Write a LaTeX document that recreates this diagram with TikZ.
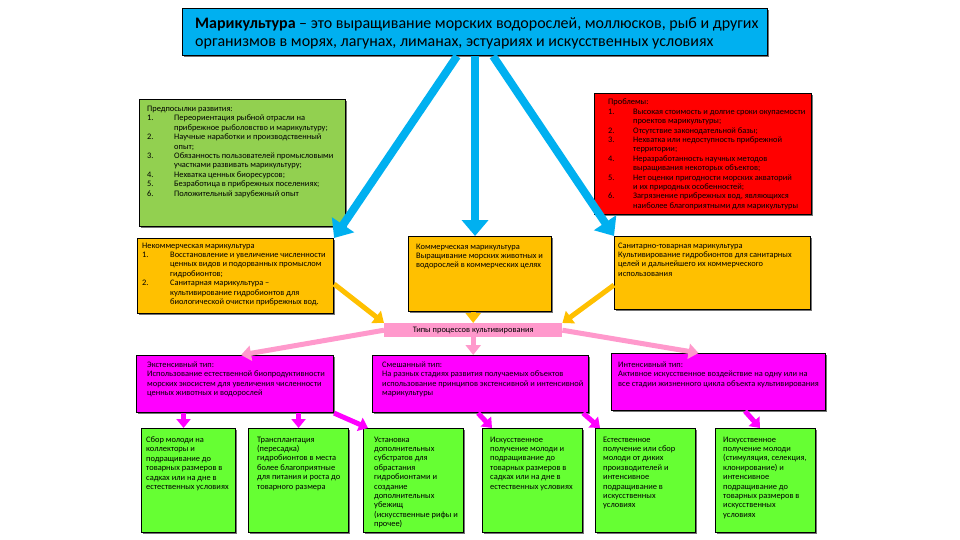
\documentclass[tikz,border=0pt]{standalone}
\usepackage{fontspec}
\setmainfont{Carlito}
\usetikzlibrary{arrows.meta,calc,shadows}
\definecolor{cblue}{HTML}{00B0F0}
\definecolor{cgreen}{HTML}{92D050}
\definecolor{cred}{HTML}{FF0000}
\definecolor{corange}{HTML}{FFC000}
\definecolor{cpink}{HTML}{FF99CC}
\definecolor{cmag}{HTML}{FF00FF}
\definecolor{clime}{HTML}{66FF33}
\newcommand{\NI}[2]{\makebox[#1][l]{#2}}
\begin{document}
\begin{tikzpicture}[x=1pt,y=-1pt,
  box/.style={draw=black, line width=1.1pt, inner sep=0pt, anchor=north west,
    drop shadow={shadow xshift=1.2pt,shadow yshift=-1.2pt,fill=black,opacity=.55}},
  txt/.style={inner sep=0pt, anchor=north west, align=left, text=black,
    font=\fontsize{8.4}{9.4}\selectfont},
  barrow/.style={draw=cblue, line width=8pt, -{Triangle[width=26pt,length=16pt]}},
  oarrow/.style={draw=corange, line width=5pt, -{Triangle[width=15pt,length=10pt]}},
  parrow/.style={draw=cpink, line width=5pt, -{Triangle[width=15pt,length=10pt]}},
  marrow/.style={draw=cmag, line width=5pt, -{Triangle[width=14pt,length=9pt]}}]
\useasboundingbox (0,0) rectangle (960,540);
\fill[white] (0,0) rectangle (960,540);

% boxes
\node[box, fill=cblue, minimum width=585pt, minimum height=47pt] (title) at (182,8) {};
\node[box, fill=cgreen, minimum width=206pt, minimum height=127pt] (pre) at (139,99) {};
\node[box, fill=cred, minimum width=217pt, minimum height=121pt] (prob) at (594,93) {};
\node[box, fill=corange, minimum width=196pt, minimum height=75pt] (ol) at (137,238) {};
\node[box, fill=corange, minimum width=143pt, minimum height=75pt] (om) at (408,236) {};
\node[box, fill=corange, minimum width=196pt, minimum height=73pt] (or) at (614,236) {};
\node[fill=cpink, inner sep=0pt, anchor=north west, minimum width=178pt, minimum height=14pt] (pink) at (384,323) {};
\node[box, fill=cmag, minimum width=197pt, minimum height=57pt] (ml) at (136,355) {};
\node[box, fill=cmag, minimum width=216pt, minimum height=57pt] (mm) at (372,355) {};
\node[box, fill=cmag, minimum width=214pt, minimum height=57pt] (mr) at (611,353) {};
\node[box, fill=clime, minimum width=94pt, minimum height=104pt] (g1) at (141,428) {};
\node[box, fill=clime, minimum width=100pt, minimum height=104pt] (g2) at (248,428) {};
\node[box, fill=clime, minimum width=100pt, minimum height=104pt] (g3) at (363,428) {};
\node[box, fill=clime, minimum width=100pt, minimum height=104pt] (g4) at (482,428) {};
\node[box, fill=clime, minimum width=100pt, minimum height=104pt] (g5) at (595,428) {};
\node[box, fill=clime, minimum width=100pt, minimum height=104pt] (g6) at (715,428) {};

% arrows
\draw[barrow] ([xshift=-18pt]title.south) -- (ol.north east);
\draw[barrow] (title.south) -- (title.south |- om.north);
\draw[barrow] ([xshift=18pt]title.south) -- (or.north west);
\draw[oarrow] ([yshift=-8pt]ol.east) -- (pink.north west);
\draw[oarrow] (om.south -| pink.north) -- (pink.north);
\draw[oarrow] ([yshift=-12pt]or.west) -- (pink.north east);
\draw[parrow] (pink.west) -- ([xshift=6pt]ml.north);
\draw[parrow] (pink.south) -- (pink.south |- mm.north);
\draw[parrow] (pink.east) -- ([xshift=-20pt]mr.north);
\draw[marrow] ([xshift=-5pt]g1.north |- ml.south) -- ([xshift=-5pt]g1.north);
\draw[marrow] (g2.north |- ml.south) -- (g2.north);
\draw[marrow] (ml.south east) -- ([xshift=5pt]g3.north west);
\draw[marrow] ([xshift=106pt]mm.south west) -- ([xshift=10pt]g4.north west);
\draw[marrow] ([xshift=-6pt]mm.south east) -- ([xshift=5pt]g5.north west);
\draw[marrow] ([xshift=134pt]mr.south west) -- ([xshift=45pt]g6.north west);

% texts
\node[txt, font=\fontsize{16}{18}\selectfont] (title-t) at ($(title.north west)+(13,9)$)
  {\textbf{Марикультура} – это выращивание морских водорослей, моллюсков, рыб и других\\
   организмов в морях, лагунах, лиманах, эстуариях и искусственных условиях};
\node[txt] (pre-t) at ($(pre.north west)+(8,7)$)
  {Предпосылки развития:\\
   \NI{27pt}{1.}Переориентация рыбной отрасли на\\
   \NI{27pt}{}прибрежное рыболовство и марикультуру;\\
   \NI{27pt}{2.}Научные наработки и производственный\\
   \NI{27pt}{}опыт;\\
   \NI{27pt}{3.}Обязанность пользователей промысловыми\\
   \NI{27pt}{}участками развивать марикультуру;\\
   \NI{27pt}{4.}Нехватка ценных биоресурсов;\\
   \NI{27pt}{5.}Безработица в прибрежных поселениях;\\
   \NI{27pt}{6.}Положительный зарубежный опыт};
\node[txt] (prob-t) at ($(prob.north west)+(14,6)$)
  {Проблемы:\\
   \NI{25pt}{1.}Высокая стоимость и долгие сроки окупаемости\\
   \NI{25pt}{}проектов марикультуры;\\
   \NI{25pt}{2.}Отсутствие законодательной базы;\\
   \NI{25pt}{3.}Нехватка или недоступность прибрежной\\
   \NI{25pt}{}территории;\\
   \NI{25pt}{4.}Неразработанность научных методов\\
   \NI{25pt}{}выращивания некоторых объектов;\\
   \NI{25pt}{5.}Нет оценки пригодности морских акваторий\\
   \NI{25pt}{}и их природных особенностей;\\
   \NI{25pt}{6.}Загрязнение прибрежных вод, являющихся\\
   \NI{25pt}{}наиболее благоприятными для марикультуры};
\node[txt] (ol-t) at ($(ol.north west)+(5,4.5)$)
  {Некоммерческая марикультура\\
   \NI{28pt}{1.}Восстановление и увеличение численности\\
   \NI{28pt}{}ценных видов и подорванных промыслом\\
   \NI{28pt}{}гидробионтов;\\
   \NI{28pt}{2.}Санитарная марикультура –\\
   \NI{28pt}{}культивирование гидробионтов для\\
   \NI{28pt}{}биологической очистки прибрежных вод.};
\node[txt] (om-t) at ($(om.north west)+(8,7.5)$)
  {Коммерческая марикультура\\
   Выращивание морских животных и\\
   водорослей в коммерческих целях};
\node[txt] (or-t) at ($(or.north west)+(4,6.5)$)
  {Санитарно-товарная марикультура\\
   Культивирование гидробионтов для санитарных\\
   целей и дальнейшего их коммерческого\\
   использования};
\node[inner sep=0pt, font=\fontsize{8.4}{9.4}\selectfont] (pink-t) at (pink.center)
  {Типы процессов культивирования};
\node[txt] (ml-t) at ($(ml.north west)+(11,6.5)$)
  {Экстенсивный тип:\\
   Использование естественной биопродуктивности\\
   морских экосистем для увеличения численности\\
   ценных животных и водорослей};
\node[txt] (mm-t) at ($(mm.north west)+(10,6.5)$)
  {Смешанный тип:\\
   На разных стадиях развития получаемых объектов\\
   использование принципов экстенсивной и интенсивной\\
   марикультуры};
\node[txt] (mr-t) at ($(mr.north west)+(7,8.5)$)
  {Интенсивный тип:\\
   Активное искусственное воздействие на одну или на\\
   все стадии жизненного цикла объекта культивирования};
\node[txt] (g1-t) at ($(g1.north west)+(5,8.5)$)
  {Сбор молоди на\\ коллекторы и\\ подращивание до\\ товарных размеров в\\ садках или на дне в\\ естественных условиях};
\node[txt] (g2-t) at ($(g2.north west)+(9,8.5)$)
  {Трансплантация\\ (пересадка)\\ гидробионтов в места\\ более благоприятные\\ для питания и роста до\\ товарного размера};
\node[txt] (g3-t) at ($(g3.north west)+(11,8.5)$)
  {Установка\\ дополнительных\\ субстратов для\\ обрастания\\ гидробионтами и\\ создание\\ дополнительных\\ убежищ\\ (искусственные рифы и\\ прочее)};
\node[txt] (g4-t) at ($(g4.north west)+(8,8.5)$)
  {Искусственное\\ получение молоди и\\ подращивание до\\ товарных размеров в\\ садках или на дне в\\ естественных условиях};
\node[txt] (g5-t) at ($(g5.north west)+(8,8.5)$)
  {Естественное\\ получение или сбор\\ молоди от диких\\ производителей и\\ интенсивное\\ подращивание в\\ искусственных\\ условиях};
\node[txt] (g6-t) at ($(g6.north west)+(8,8.5)$)
  {Искусственное\\ получение молоди\\ (стимуляция, селекция,\\ клонирование) и\\ интенсивное\\ подращивание до\\ товарных размеров в\\ искусственных\\ условиях};
\end{tikzpicture}
\end{document}
